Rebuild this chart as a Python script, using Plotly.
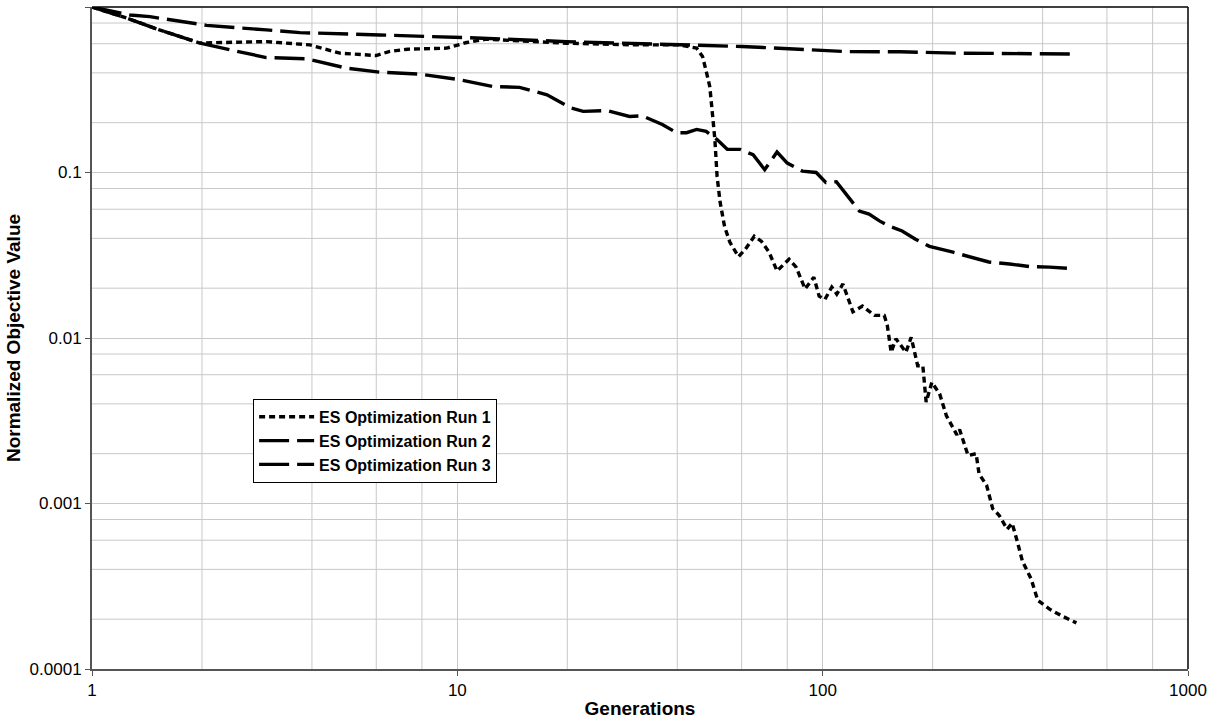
import plotly.graph_objects as go

# --- Run 1 (dotted) ---
run1_gen = [1, 1.25, 1.53, 1.97, 3.0, 3.95, 4.77, 6.0, 6.5, 7.3, 9.35, 10.6, 12.0, 16.1, 19.9,
            30.2, 40.6, 45.2, 46.9, 47.9, 49.1, 50.0, 50.7, 51.4, 52.4, 53.9, 55.7, 58.8, 61.4,
            65.0, 67.9, 71.3, 75.0, 80.9, 84.6, 89.5, 94.6, 97.8, 101.4, 105.9, 109.3, 113.6,
            121, 128.5, 138.6, 147.4, 150.3, 154, 158.7, 169, 174.7, 182, 188, 192, 199, 209,
            218, 233, 237, 250, 263, 268, 281, 292, 304, 320, 330, 341, 352, 372, 388, 418,
            450, 495]
run1_val = [1.0, 0.855, 0.727, 0.606, 0.618, 0.59, 0.526, 0.509, 0.538, 0.556, 0.564, 0.61,
            0.639, 0.618, 0.604, 0.59, 0.59, 0.564, 0.502, 0.417, 0.33, 0.218, 0.158, 0.095,
            0.066, 0.047, 0.038, 0.031, 0.0343, 0.0412, 0.0385, 0.0331, 0.0254, 0.0299, 0.0268,
            0.0198, 0.0233, 0.0179, 0.0171, 0.0203, 0.0184, 0.0212, 0.0144, 0.0156, 0.0137,
            0.0137, 0.0119, 0.0082, 0.0099, 0.0082, 0.0101, 0.0068, 0.0068, 0.0041, 0.0054,
            0.0046, 0.0034, 0.0026, 0.0028, 0.00195, 0.002, 0.00151, 0.00129, 0.00093, 0.00085,
            0.0007, 0.00076, 0.00059, 0.00045, 0.00035, 0.00026, 0.00023, 0.00021, 0.00019]

# --- Run 2 (long dash, upper curve) ---
run2_gen = [1, 1.27, 1.44, 2.06, 3.0, 3.71, 6.13, 10.2, 11.7, 19.9, 40.6, 60, 86, 116, 163,
            237, 497]
run2_val = [1.0, 0.895, 0.874, 0.775, 0.727, 0.70, 0.678, 0.657, 0.648, 0.618, 0.59, 0.577,
            0.556, 0.538, 0.536, 0.526, 0.52]

# --- Run 3 (long dash, middle curve) ---
run3_gen = [1, 1.17, 1.25, 1.53, 1.97, 2.39, 3.0, 3.87, 4.98, 6.13, 7.9, 10.2, 12.5, 14.8,
            17.6, 20.4, 22.1, 25.6, 29.6, 32.1, 36.4, 39.8, 42.4, 45.2, 48, 51.4, 54.8, 59.4,
            64.5, 69.4, 75, 80, 88, 96, 102, 109, 118, 126, 134, 143, 152, 165, 180, 196, 226,
            251, 285, 325, 368, 418, 482]
run3_val = [1.0, 0.895, 0.855, 0.727, 0.606, 0.551, 0.495, 0.486, 0.427, 0.404, 0.393, 0.363,
            0.331, 0.327, 0.295, 0.246, 0.234, 0.237, 0.218, 0.22, 0.195, 0.174, 0.174, 0.182,
            0.177, 0.158, 0.138, 0.138, 0.128, 0.104, 0.133, 0.114, 0.102, 0.1, 0.087, 0.088,
            0.0707, 0.0585, 0.056, 0.051, 0.0475, 0.0443, 0.0394, 0.0358, 0.0331, 0.0312,
            0.0288, 0.028, 0.027, 0.0268, 0.0263]

series_names = ["ES Optimization Run 1", "ES Optimization Run 2", "ES Optimization Run 3"]

x_ticks = [1, 10, 100, 1000]
x_tick_text = ["1", "10", "100", "1000"]
y_ticks = [1, 0.1, 0.01, 0.001, 0.0001]
y_tick_text = ["1", "0.1", "0.01", "0.001", "0.0001"]

# intermediate grid lines at 2, 4, 6, 8 within each decade
x_minor = [m * d for d in (1, 10, 100) for m in (2, 4, 6, 8)]
y_minor = [m * d for d in (0.0001, 0.001, 0.01, 0.1) for m in (2, 4, 6, 8)]

FONT = "Liberation Sans, Arial, Helvetica, sans-serif"
GRID = "#c8c8c8"

fig = go.Figure()
styles = [("6px,4px", 3.4), ("30px,8px", 3.4), ("30px,8px", 3.4)]
data = [(run1_gen, run1_val), (run2_gen, run2_val), (run3_gen, run3_val)]
for (gx, vy), name, (dash, w) in zip(data, series_names, styles):
    fig.add_trace(go.Scatter(
        x=gx, y=vy, mode="lines", name=name, legendgroup=name,
        line=dict(color="black", width=w, dash=dash),
    ))

grid_shapes = []
for xv in x_minor:
    grid_shapes.append(dict(type="line", xref="x", yref="paper", x0=xv, x1=xv, y0=0, y1=1,
                            layer="below", line=dict(color=GRID, width=1)))
for yv in y_minor:
    grid_shapes.append(dict(type="line", xref="paper", yref="y", x0=0, x1=1, y0=yv, y1=yv,
                            layer="below", line=dict(color=GRID, width=1)))

border_shapes = [
    dict(type="line", xref="paper", yref="paper", x0=0, x1=1, y0=1, y1=1,
         line=dict(color="black", width=1.5)),
    dict(type="line", xref="paper", yref="paper", x0=1, x1=1, y0=0, y1=1,
         line=dict(color="black", width=1.5)),
]

fig.update_layout(
    width=1218, height=723,
    margin=dict(l=92, r=30, t=7, b=52),
    paper_bgcolor="white", plot_bgcolor="white",
    font=dict(family=FONT, color="black", size=17),
    showlegend=True,
    legend=dict(
        x=0.147, y=0.408, xanchor="left", yanchor="top",
        bgcolor="white", bordercolor="black", borderwidth=1,
        font=dict(family=FONT, size=16, weight="bold"),
        itemwidth=55, tracegroupgap=4, traceorder="normal",
    ),
    xaxis=dict(
        type="log", range=[0, 3],
        tickmode="array", tickvals=x_ticks, ticktext=x_tick_text,
        ticks="outside", ticklen=5, tickcolor="#555",
        showline=True, linecolor="#555", linewidth=2,
        showgrid=True, gridcolor=GRID, gridwidth=1,
        zeroline=False,
        tickfont=dict(size=17),
        title=dict(text="Generations", standoff=2,
                   font=dict(size=19, weight="bold")),
    ),
    yaxis=dict(
        type="log", range=[-4, 0],
        tickmode="array", tickvals=y_ticks, ticktext=y_tick_text,
        ticks="outside", ticklen=5, tickcolor="#555",
        showline=True, linecolor="#555", linewidth=2,
        showgrid=True, gridcolor=GRID, gridwidth=1,
        zeroline=False,
        tickfont=dict(size=17),
        title=dict(text="Normalized Objective Value", standoff=4,
                   font=dict(size=19, weight="bold")),
    ),
    shapes=grid_shapes + border_shapes,
)

fig.write_html("out.html", config={"displayModeBar": False})
